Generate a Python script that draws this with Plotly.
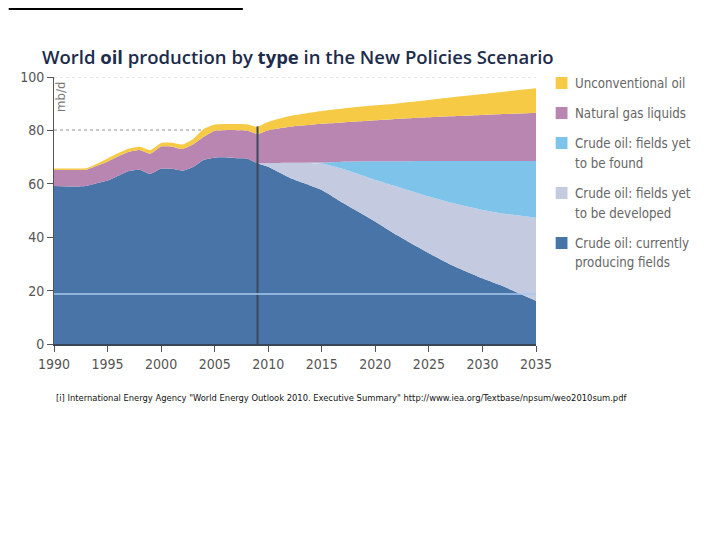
import plotly.graph_objects as go

# ---- data (mb/d), cumulative tops of each stacked band ----
years = [1990, 1992, 1993, 1994, 1995, 1996, 1997, 1998, 1999, 2000, 2001, 2002,
         2003, 2004, 2005, 2006, 2007, 2008, 2009, 2010, 2012, 2015, 2017, 2020,
         2022, 2025, 2027, 2030, 2032, 2035]

current_top = [59.2, 59.0, 59.2, 60.2, 61.2, 63.0, 64.8, 65.3, 63.7, 65.7, 65.6, 64.9,
               66.3, 69.0, 69.8, 69.9, 69.6, 69.5, 67.7, 66.4, 62.3, 57.7, 52.8, 45.8,
               40.8, 34.0, 29.8, 24.6, 21.5, 16.2]
developed_top = [59.2, 59.0, 59.2, 60.2, 61.2, 63.0, 64.8, 65.3, 63.7, 65.7, 65.6, 64.9,
                 66.3, 69.0, 69.8, 69.9, 69.6, 69.5, 67.7, 67.8, 67.9, 67.6, 65.5, 61.4,
                 59.0, 55.2, 53.0, 50.2, 48.8, 47.3]
found_top = [59.2, 59.0, 59.2, 60.2, 61.2, 63.0, 64.8, 65.3, 63.7, 65.7, 65.6, 64.9,
             66.3, 69.0, 69.8, 69.9, 69.6, 69.5, 67.7, 67.8, 67.9, 68.0, 68.3, 68.4,
             68.4, 68.5, 68.5, 68.5, 68.5, 68.5]
ngl_top = [65.2, 65.2, 65.3, 66.8, 68.3, 70.3, 72.0, 72.7, 71.3, 74.0, 74.0, 73.0,
           74.8, 77.7, 79.9, 80.1, 80.1, 80.0, 78.7, 80.1, 81.4, 82.5, 83.0, 83.8,
           84.3, 84.9, 85.3, 85.8, 86.1, 86.6]
unconv_top = [65.7, 65.7, 65.8, 67.5, 69.5, 71.5, 73.2, 73.9, 72.6, 75.3, 75.4, 74.7,
              76.8, 80.6, 82.2, 82.4, 82.4, 82.3, 81.3, 83.2, 85.4, 87.3, 88.2, 89.4,
              90.1, 91.4, 92.3, 93.6, 94.5, 95.8]

series_names = ["Crude oil: currently producing fields",
                "Crude oil: fields yet to be developed",
                "Crude oil: fields yet to be found",
                "Natural gas liquids",
                "Unconventional oil"]
series_tops = [current_top, developed_top, found_top, ngl_top, unconv_top]
colors = ["#4874a8", "#c4cbe0", "#7ec4ea", "#b886b0", "#f6ca44"]

legend_labels = [["Unconventional oil"],
                 ["Natural gas liquids"],
                 ["Crude oil: fields yet", "to be found"],
                 ["Crude oil: fields yet", "to be developed"],
                 ["Crude oil: currently", "producing fields"]]
legend_colors = ["#f6ca44", "#b886b0", "#7ec4ea", "#c4cbe0", "#4874a8"]

x_ticks = [1990, 1995, 2000, 2005, 2010, 2015, 2020, 2025, 2030, 2035]
y_ticks = [0, 20, 40, 60, 80, 100]

history_end = 2009
history_line_top = 81.5
stray_line_value = 18.7

title_html = "World <b>oil</b> production by <b>type</b> in the New Policies Scenario"
footnote = ('[i] International Energy Agency "World Energy Outlook 2010. Executive Summary" '
            'http://www.iea.org/Textbase/npsum/weo2010sum.pdf')

# ---- layout geometry (page pixels; the figure sits 8px in from the page corner) ----
OFF = 8
W, H = 720 - OFF, 540 - OFF
PL, PR, PT, PB = 46, 536, 77, 344          # plot area in page pixels
ML, MT = PL - OFF, PT - OFF
MR, MB = W - (PR - OFF), H - (PB - OFF)
PW, PH = PR - PL, PB - PT


def px(xp):
    return (xp - PL) / PW


def py(yp):
    return (PB - yp) / PH


NARROW = "Liberation Sans Narrow, DejaVu Sans Condensed, sans-serif"

fig = go.Figure()
for i, (name, tops, col) in enumerate(zip(series_names, series_tops, colors)):
    fig.add_trace(go.Scatter(
        x=years, y=tops, name=name, mode="lines",
        line=dict(width=0, color=col, shape="spline", smoothing=0.4),
        fill="tozeroy" if i == 0 else "tonexty",
        fillcolor=col, showlegend=False, hoverinfo="skip"))

shapes = []
# dotted reference line at the top of the scale
shapes.append(dict(type="line", xref="paper", yref="y", x0=0, x1=1, y0=100, y1=100,
                   line=dict(color="#cfcfcf", width=1.2, dash="dot"), layer="below"))
# history / projection divider
shapes.append(dict(type="line", xref="x", yref="y", x0=history_end, x1=history_end,
                   y0=0, y1=history_line_top, line=dict(color="#3c4a5c", width=2),
                   layer="above"))
# faint horizontal line across plot
shapes.append(dict(type="line", xref="paper", yref="y", x0=0, x1=1,
                   y0=stray_line_value, y1=stray_line_value,
                   line=dict(color="#a9c9ee", width=1.5), layer="above"))
# top black rule
shapes.append(dict(type="line", xref="paper", yref="paper", x0=px(0), x1=px(238),
                   y0=py(OFF + 1), y1=py(OFF + 1), line=dict(color="black", width=2)))

annotations = []
# legend (custom)
leg_rows = [83, 113, 143, 193, 243]
for labels, col, yc in zip(legend_labels, legend_colors, leg_rows):
    shapes.append(dict(type="rect", xref="paper", yref="paper",
                       x0=px(556), x1=px(568), y0=py(yc + 6), y1=py(yc - 6),
                       fillcolor=col, line=dict(width=0)))
    for k, lab in enumerate(labels):
        annotations.append(dict(x=px(574), y=py(yc + 20 * k), xref="paper", yref="paper",
                                text=lab, showarrow=False, xanchor="left",
                                yanchor="middle",
                                font=dict(family=NARROW, size=13.2, color="#666666")))

annotations.append(dict(x=px(32), y=py(56), xref="paper", yref="paper",
                        text=title_html, showarrow=False, xanchor="left",
                        yanchor="middle",
                        font=dict(family="Open Sans, Lato, sans-serif", size=18.5,
                                  color="#1d2c4c", weight=600)))
annotations.append(dict(x=px(53), y=py(97), xref="paper", yref="paper",
                        text="mb/d", textangle=-90, showarrow=False,
                        xanchor="center", yanchor="middle",
                        font=dict(family=NARROW, size=13, color="#777777")))
annotations.append(dict(x=px(338), y=py(397), xref="paper", yref="paper",
                        text=footnote, showarrow=False, xanchor="center",
                        yanchor="middle",
                        font=dict(family=NARROW, size=9.3, color="#111111")))

fig.update_layout(
    width=W, height=H,
    margin=dict(l=ML, r=MR, t=MT, b=MB, pad=0),
    paper_bgcolor="white", plot_bgcolor="white",
    showlegend=False,
    shapes=shapes, annotations=annotations,
    xaxis=dict(range=[1990, 2035], tickvals=x_ticks, ticks="outside", ticklen=6,
               tickcolor="#555555", showline=True, linecolor="#3a4656", linewidth=2,
               showgrid=False, zeroline=False,
               tickfont=dict(family=NARROW, size=14, color="#555555")),
    yaxis=dict(range=[0, 100], tickvals=y_ticks, ticks="outside", ticklen=6,
               tickcolor="#555555", showline=True, linecolor="#555555", linewidth=1,
               showgrid=True, gridcolor="#c8c8c8", griddash="dot", gridwidth=1.5,
               zeroline=False,
               tickfont=dict(family=NARROW, size=14, color="#555555")),
)

fig.write_html("out.html")
